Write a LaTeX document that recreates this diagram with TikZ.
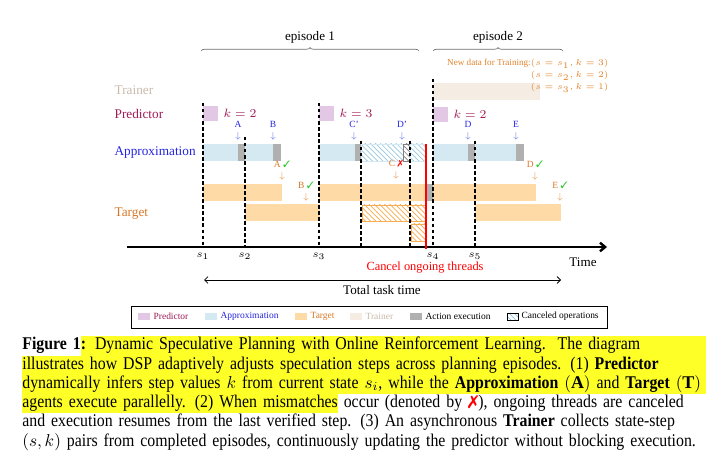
\documentclass[tikz,border=0pt]{standalone}
\usepackage{amsmath}
\usepackage{amssymb}
\usepackage{pifont}
\usepackage{fontspec}
\setmainfont{Liberation Serif}
\newfontfamily\capfont[FakeStretch=0.885]{Liberation Serif}
\usetikzlibrary{arrows.meta,patterns,decorations.pathreplacing}

\definecolor{predfill}{RGB}{226,200,228}
\definecolor{predtext}{RGB}{160,25,85}
\definecolor{apxfill}{RGB}{212,233,241}
\definecolor{apxtext}{RGB}{35,35,225}
\definecolor{apxarrow}{RGB}{110,125,235}
\definecolor{apxhatch}{RGB}{150,200,222}
\definecolor{tgtfill}{RGB}{253,218,166}
\definecolor{tgttext}{RGB}{215,120,40}
\definecolor{tgtarrow}{RGB}{232,155,80}
\definecolor{tgthatch}{RGB}{246,172,80}
\definecolor{trnfill}{RGB}{245,236,227}
\definecolor{trntext}{RGB}{200,185,170}
\definecolor{actgray}{RGB}{176,176,176}
\definecolor{chkgreen}{RGB}{40,200,40}
\definecolor{hlyellow}{RGB}{255,255,40}
\definecolor{bracegray}{RGB}{110,110,110}
\definecolor{datatext}{RGB}{225,130,40}

\newcommand{\okmark}{\textcolor{chkgreen}{\ding{51}}}
\newcommand{\badmark}{\textcolor{red}{\ding{55}}}
\newlength{\figtagwd}
\newcommand{\hlfull}[2]{\colorbox{hlyellow}{\makebox[#1][s]{\strut #2}}}

\begin{document}
\begin{tikzpicture}[x=0.581pt,y=0.581pt,yscale=-1,xscale=1,
    rowlabel/.style={anchor=west,inner sep=0.75pt,font=\fontsize{7.7}{9}\selectfont},
    klabel/.style={anchor=west,inner sep=0.75pt,text=predtext,font=\fontsize{7.5}{9}\selectfont},
    apxlabel/.style={inner sep=0pt,align=center,text=apxtext,font=\fontsize{5.5}{6.4}\selectfont},
    tgtlabel/.style={inner sep=0pt,align=center,text=tgttext,font=\fontsize{5.5}{6.4}\selectfont},
    steplabel/.style={inner sep=0.75pt,font=\fontsize{6.5}{8}\selectfont},
    biglabel/.style={inner sep=0.75pt,font=\fontsize{7.6}{9}\selectfont},
    legtext/.style={anchor=west,inner sep=0.75pt,font=\fontsize{5.5}{6.5}\selectfont},
    predbox/.style={fill=predfill},
    apxbar/.style={fill=apxfill},
    tgtbar/.style={fill=tgtfill},
    trnbar/.style={fill=trnfill},
    actbox/.style={fill=actgray},
    apxcancel/.style={draw=apxfill,line width=0.3pt,pattern=north west lines,pattern color=apxhatch},
    actcancel/.style={draw=gray,line width=0.3pt,pattern=north west lines,pattern color=gray},
    tgtcancel/.style={draw=tgthatch,line width=0.4pt,pattern=north west lines,pattern color=tgthatch},
    vline/.style={line width=0.6pt,dash pattern=on 2pt off 1.5pt},
    episodebrace/.style={bracegray,line width=0.4pt,decorate,decoration={brace,amplitude=2pt}}
  ]
  \useasboundingbox (0,0) rectangle (720,465);

  % episodes
  \coordinate (ep1l) at (201,51);
  \coordinate (ep1r) at (419,51);
  \coordinate (ep2l) at (433,51);
  \coordinate (ep2r) at (563,51);
  \draw [episodebrace] (ep1l) -- (ep1r);
  \draw [episodebrace] (ep2l) -- (ep2r);
  \node [biglabel] (ep1) at (310,37) {episode 1};
  \node [biglabel] (ep2) at (498,37) {episode 2};

  % row labels
  \node [rowlabel,text=trntext] (trainer) at (113,90) {Trainer};
  \node [rowlabel,text=predtext] (predictor) at (113,114) {Predictor};
  \node [rowlabel,text=apxtext] (approx) at (113,152.5) {Approximation};
  \node [rowlabel,text=tgttext] (target) at (113,213.5) {Target};

  % trainer
  \draw [trnbar,draw=none] (433,83) rectangle (540,100);
  \node [anchor=north east,inner sep=0pt,align=right,text=datatext,font=\fontsize{5.3}{7}\selectfont] (newdata) at (609,59)
    {New data for Training:$(s=s_1,k=3)$\\$(s=s_2,k=2)$\\$(s=s_3,k=1)$};

  % predictor
  \draw [predbox,draw=none] (203,106) rectangle (218,121);
  \draw [predbox,draw=none] (319,106) rectangle (334,121);
  \draw [predbox,draw=none] (433,107) rectangle (448,122);
  \node [klabel] (k1) at (222,113) {$k=2$};
  \node [klabel] (k2) at (338,113) {$k=3$};
  \node [klabel] (k3) at (452,114) {$k=2$};

  % approximation row
  \draw [apxbar,draw=none] (203,144) rectangle (238,161);
  \draw [actbox,draw=none] (238,144) rectangle (245,161);
  \draw [apxbar,draw=none] (245,144) rectangle (273,161);
  \draw [actbox,draw=none] (273,144) rectangle (281,161);
  \draw [apxbar,draw=none] (319,144) rectangle (355,161);
  \draw [actbox,draw=none] (355,144) rectangle (361,161);
  \draw [apxcancel] (361,144) rectangle (403,161);
  \draw [actcancel] (403,144) rectangle (410,161);
  \draw [apxcancel] (410,144) rectangle (426,161);
  \draw [apxbar,draw=none] (433,144) rectangle (468,161);
  \draw [actbox,draw=none] (468,144) rectangle (475,161);
  \draw [apxbar,draw=none] (475,144) rectangle (516,161);
  \draw [actbox,draw=none] (516,144) rectangle (524,161);

  \node [apxlabel] (lblA) at (238,130.5) {A\\\textcolor{apxarrow}{$\downarrow$}};
  \node [apxlabel] (lblB) at (273,130.5) {B\\\textcolor{apxarrow}{$\downarrow$}};
  \node [apxlabel] (lblCp) at (354,130.5) {C'\\\textcolor{apxarrow}{$\downarrow$}};
  \node [apxlabel] (lblDp) at (402,130.5) {D'\\\textcolor{apxarrow}{$\downarrow$}};
  \node [apxlabel] (lblD) at (468,130.5) {D\\\textcolor{apxarrow}{$\downarrow$}};
  \node [apxlabel] (lblE) at (516,130.5) {E\\\textcolor{apxarrow}{$\downarrow$}};

  % target rows
  \draw [tgtbar,draw=none] (203,184) rectangle (282,201);
  \draw [tgtbar,draw=none] (245,204) rectangle (320,221);
  \draw [tgtbar,draw=none] (319,184) rectangle (426,201);
  \draw [actbox,draw=none] (426,184) rectangle (433,201);
  \draw [tgtbar,draw=none] (433,184) rectangle (536,201);
  \draw [tgtcancel] (362,205) rectangle (426,221);
  \draw [tgtcancel] (411,224) rectangle (426,241);
  \draw [tgtbar,draw=none] (475,204) rectangle (561,221);

  \node [tgtlabel] (tgtA) at (282,170.5) {A \okmark\\\textcolor{tgtarrow}{$\downarrow$}};
  \node [tgtlabel] (tgtB) at (306,191.5) {B \okmark\\\textcolor{tgtarrow}{$\downarrow$}};
  \node [tgtlabel] (tgtC) at (396,169.5) {C \badmark\\\textcolor{tgtarrow}{$\downarrow$}};
  \node [tgtlabel] (tgtD) at (535,170.5) {D \okmark\\\textcolor{tgtarrow}{$\downarrow$}};
  \node [tgtlabel] (tgtE) at (560,191.5) {E \okmark\\\textcolor{tgtarrow}{$\downarrow$}};

  % time axis and step marks
  \coordinate (axstart) at (127,247);
  \coordinate (axend) at (607,247);
  \coordinate (s1) at (203,247);
  \coordinate (s2) at (245,247);
  \coordinate (s3) at (319,247);
  \coordinate (m1) at (361,247);
  \coordinate (m2) at (410,247);
  \coordinate (s4) at (433,247);
  \coordinate (s5) at (475,247);
  \draw [vline] (203,103) -- (s1);
  \draw [vline] (245,137) -- (s2);
  \draw [vline] (319,103) -- (s3);
  \draw [vline] (361,141) -- (m1);
  \draw [vline] (410,141) -- (m2);
  \draw [vline] (433,79) -- (s4);
  \draw [vline] (475,141) -- (s5);
  \draw [line width=1.4pt,-{Straight Barb[length=3pt,width=5pt]}] (axstart) -- (axend);

  % cancel line
  \coordinate (cancelTop) at (426,144);
  \coordinate (cancelBot) at (426,249);
  \draw [red,line width=1.3pt] (cancelTop) -- (cancelBot);

  \node [steplabel] (ls1) at (203,256) {$s_1$};
  \node [steplabel] (ls2) at (245,256) {$s_2$};
  \node [steplabel] (ls3) at (319,256) {$s_3$};
  \node [steplabel] (ls4) at (433,256) {$s_4$};
  \node [steplabel] (ls5) at (475,256) {$s_5$};
  \node [biglabel] (time) at (583,262) {Time};
  \node [biglabel,text=red,font=\fontsize{7.2}{9}\selectfont] (cancel) at (425,268) {Cancel ongoing threads};

  % total task time
  \coordinate (tt1) at (204,280);
  \coordinate (tt2) at (561,280);
  \draw [line width=0.5pt,{Straight Barb[length=2pt]}-{Straight Barb[length=2pt]}] (tt1) -- (tt2);
  \node [biglabel] (total) at (382,290) {Total task time};

  % legend
  \draw [line width=0.5pt] (131,306) rectangle (607,328);
  \draw [predbox,draw=none] (138,313) rectangle (150,320);
  \node [legtext,text=predtext] (legpred) at (152,316.5) {Predictor};
  \draw [apxbar,draw=none] (205,313) rectangle (217,320);
  \node [legtext,text=apxtext] (legapx) at (219,316.5) {Approximation};
  \draw [tgtbar,draw=none] (295,313) rectangle (307,320);
  \node [legtext,text=tgttext] (legtgt) at (309,316.5) {Target};
  \draw [trnbar,draw=none] (350,313) rectangle (362,320);
  \node [legtext,text=trntext] (legtrn) at (364,316.5) {Trainer};
  \draw [actbox,draw=none] (410,313) rectangle (422,320);
  \node [legtext] (legact) at (424,316.5) {Action execution};
  \draw [line width=0.5pt,pattern=north west lines,pattern color=apxhatch] (507,313) rectangle (518,320);
  \node [legtext] (legcan) at (520,316.5) {Canceled operations};

  % caption
  \node [anchor=north west,inner sep=0pt,text width=397.4pt,font=\capfont\fontsize{10.4}{11.2}\selectfont] (caption) at (22,336) {%
    \setlength{\fboxsep}{0pt}\setlength{\parindent}{0pt}%
    \settowidth{\figtagwd}{\textbf{Figure 1}}%
    \makebox[\linewidth][l]{\textbf{Figure 1}\hlfull{\dimexpr\linewidth-\figtagwd\relax}{\textbf{:}\enspace Dynamic Speculative Planning with Online Reinforcement Learning.\ \ The diagram}}\\
    \hlfull{\linewidth}{illustrates how DSP adaptively adjusts speculation steps across planning episodes. (1) \textbf{Predictor}}\\
    \hlfull{\linewidth}{dynamically infers step values $k$ from current state $s_i$, while the \textbf{Approximation} $(\mathbf{A})$ and \textbf{Target} $(\mathbf{T})$}\\
    \makebox[\linewidth][s]{\colorbox{hlyellow}{\strut agents execute parallelly. (2) When mismatches} occur (denoted by \badmark), ongoing threads are canceled}\\
    \makebox[\linewidth][s]{and execution resumes from the last verified step. (3) An asynchronous \textbf{Trainer} collects state-step}\\
    \makebox[\linewidth][s]{$(s,k)$ pairs from completed episodes, continuously updating the predictor without blocking execution.}};
\end{tikzpicture}
\end{document}
